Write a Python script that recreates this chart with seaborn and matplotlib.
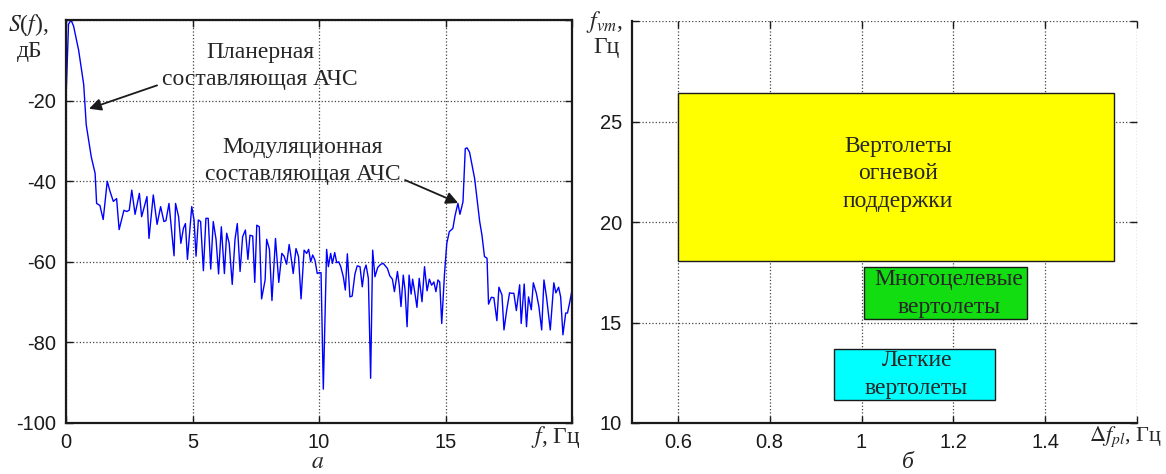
import matplotlib
matplotlib.use('Agg')
import matplotlib.pyplot as plt
import seaborn as sns
import pandas as pd

# спектр (панель а)
freq = [0.0, 0.1, 0.2, 0.3, 0.5, 0.7, 0.8, 0.9, 1.0, 1.15, 1.21, 1.34, 1.47, 1.63, 1.74, 1.87, 2.0, 2.1,
        2.29, 2.4, 2.5, 2.6, 2.73, 2.9, 2.99, 3.2, 3.28, 3.45, 3.6, 3.74, 3.87, 3.95, 4.07, 4.27, 4.33,
        4.45, 4.54, 4.64, 4.72, 4.8,
        4.97, 5.06, 5.14, 5.23, 5.32, 5.43, 5.53, 5.62, 5.72, 5.82, 5.93, 6.03, 6.14, 6.26, 6.35, 6.45,
        6.57, 6.68, 6.77, 6.88, 6.98, 7.09, 7.19, 7.27, 7.38, 7.46, 7.54, 7.64, 7.73, 7.87, 7.93, 8.04,
        8.14, 8.28, 8.41, 8.53, 8.62, 8.72, 8.82, 8.89, 8.98, 9.09, 9.19, 9.29, 9.41, 9.51, 9.59, 9.67,
        9.75, 9.84, 9.93,
        10.0, 10.08, 10.17, 10.3, 10.37, 10.46, 10.53, 10.62, 10.7, 10.78, 10.86, 10.96, 11.04, 11.12,
        11.22, 11.31, 11.42, 11.51, 11.62, 11.71, 11.79, 11.86, 11.95, 12.04, 12.12, 12.21, 12.32, 12.44,
        12.54, 12.7, 12.8, 12.9, 12.98, 13.1, 13.17, 13.24, 13.33, 13.4, 13.48, 13.56, 13.64, 13.7,
        13.79, 13.87, 13.96, 14.07, 14.17, 14.27, 14.36, 14.45, 14.54, 14.62, 14.7, 14.77, 14.85, 14.96,
        15.05, 15.15,
        15.29, 15.38, 15.49, 15.57, 15.69, 15.78, 15.85, 15.95, 16.05, 16.15, 16.25, 16.35, 16.44, 16.54,
        16.64, 16.7, 16.81, 16.91, 17.03, 17.11, 17.23, 17.31, 17.42, 17.53, 17.61, 17.7, 17.8, 17.93,
        17.99, 18.11, 18.2, 18.28, 18.39, 18.47, 18.59, 18.69, 18.8, 18.89, 18.99, 19.14, 19.28, 19.36,
        19.47, 19.55, 19.64, 19.75, 19.82, 19.9, 20.0]
level = [-19.5, -1, 0, -1.5, -7.5, -16, -26, -30, -34, -38, -45.5, -46, -49.5, -40, -42.5, -45, -44.3, -52,
         -47.2, -47.5, -47.2, -42.2, -48.2, -43, -48.8, -43.8, -54.2, -43.4, -50.7, -46.3, -50, -49.8, -45.5,
         -58.5, -45.5, -48.8, -55.4, -51.7, -50.5, -59.4,
         -46.3, -49.6, -58.6, -49.6, -50, -62.2, -49.2, -49.2, -61.8, -50, -54.4, -63, -51.3, -62.9, -52.9,
         -55.4, -65.6, -54.4, -50.5, -62.4, -53.8, -52.1, -59.4, -53.4, -53.6, -65.1, -50.9, -51.3, -69.2,
         -64.5, -54.4, -56.9, -69.6, -54.2, -65.1, -57.9, -58.6, -60.6, -55.7, -58.6, -62.9, -56.7, -58.7,
         -69.2, -57.1, -57.9, -56.9, -60, -58.3, -59.6, -62.9,
         -62.7, -62.7, -91.6, -56.9, -61.2, -57.9, -60.4, -57.7, -60.2, -60, -61.2, -63.7, -67, -58,
         -68.7, -68.5, -63, -61, -61.2, -66.2, -62, -60.8, -64.1, -88.9, -57.1, -63.7, -61.4, -60.6,
         -60.4, -61.6, -63.5, -64.3, -67.4, -62.4, -65.8, -71.1, -63.3, -67, -76.1, -63.3, -68, -64.3,
         -67.8, -71.3, -64.1, -69.9, -61.2, -67.2, -64.3, -65.8, -65, -67.4, -64.5, -65, -75.3, -62.9,
         -55.4, -52.5,
         -51.7, -48.4, -45.5, -48.2, -45.1, -31.9, -31.7, -32.8, -36, -39.3, -44.7, -50, -53.4, -58.7,
         -59.1, -70.5, -68.8, -68.9, -74.6, -66.3, -68.2, -76.9, -71.9, -67.7, -67.8, -67.8, -72.1, -65.7,
         -75.3, -65.5, -76.1, -68.7, -71.9, -65.2, -67.8, -71.1, -76.9, -64.5, -68.7, -76.9, -65.2, -67.7,
         -66.3, -68.7, -78.1, -72.7, -72.7, -70.3, -67]

# классы вертолетов (панель б): df_pl от..до, f_vm от..до
classes = ['Вертолеты\nогневой\nподдержки', 'Многоцелевые\nвертолеты', 'Легкие\nвертолеты']
dfpl_min = [0.6, 1.005, 0.94]
dfpl_max = [1.55, 1.36, 1.29]
fvm_min = [18.05, 15.15, 11.15]
fvm_max = [26.4, 17.75, 13.7]
box_colors = ['#ffff00', '#11dd11', '#00ffff']
label_x = [1.08, 1.19, 1.12]
label_y = [22.4, 16.45, 12.4]

x_ticks_a = [0, 5, 10, 15, 20]
y_ticks_a = [-100, -80, -60, -40, -20, 0]
x_ticks_b = [0.6, 0.8, 1.0, 1.2, 1.4, 1.6]
y_ticks_b = [10, 15, 20, 25, 30]

sns.set_theme(style='ticks')
plt.rcParams['font.family'] = ['Liberation Sans', 'DejaVu Sans']
plt.rcParams['axes.unicode_minus'] = False
plt.rcParams['mathtext.fontset'] = 'stix'
serif = ['Liberation Serif', 'DejaVu Serif']

fig = plt.figure(figsize=(11.66, 4.74), dpi=100)
ax1 = fig.add_axes([0.0566, 0.1076, 0.434, 0.850])
ax2 = fig.add_axes([0.542, 0.1076, 0.4331, 0.848])

spec = pd.DataFrame({'f': freq, 'S': level})
sns.lineplot(data=spec, x='f', y='S', ax=ax1, color='#0000ff', lw=1.0, sort=False)
ax1.set_xlim(0, 20)
ax1.set_ylim(-100, 0)
ax1.set_xticks(x_ticks_a)
ax1.set_xticklabels([str(t) for t in x_ticks_a[:-1]] + [''])
ax1.set_yticks(y_ticks_a)
ax1.set_yticklabels([str(t) for t in y_ticks_a[:-1]] + [''])

ax1.text(7.67, -11.4, 'Планерная\nсоставляющая АЧС', ha='center', va='center',
         family=serif, fontsize=17, linespacing=1.4)
ax1.text(9.37, -35.0, 'Модуляционная\nсоставляющая АЧС', ha='center', va='center',
         family=serif, fontsize=17, linespacing=1.4)
arrow = dict(arrowstyle='-|>', color='k', lw=1.3, mutation_scale=18, shrinkA=0, shrinkB=0)
ax1.annotate('', xy=(0.91, -22.0), xytext=(3.6, -16.2), arrowprops=arrow)
ax1.annotate('', xy=(15.5, -45.4), xytext=(13.4, -39.7), arrowprops=arrow)

# панель б
for i in range(len(classes)):
    ax2.bar(dfpl_min[i], fvm_max[i] - fvm_min[i], width=dfpl_max[i] - dfpl_min[i],
            bottom=fvm_min[i], align='edge', color=box_colors[i], edgecolor='k', lw=1.0, zorder=3)
    ax2.text(label_x[i], label_y[i], classes[i], ha='center', va='center', family=serif,
             fontsize=17, linespacing=1.42, zorder=4)
ax2.set_xlim(0.5, 1.6)
ax2.set_ylim(10, 30)
ax2.set_xticks(x_ticks_b)
ax2.set_xticklabels(['0.6', '0.8', '1', '1.2', '1.4', ''])
ax2.set_yticks(y_ticks_b)
ax2.set_yticklabels([str(t) for t in y_ticks_b[:-1]] + [''])
ax2.spines['top'].set_visible(False)
ax2.spines['right'].set_visible(False)

for ax in (ax1, ax2):
    ax.set_xlabel('')
    ax.set_ylabel('')
    ax.grid(True, linestyle=':', color='#444444', lw=0.9)
    ax.set_axisbelow(True)
    ax.tick_params(direction='in', length=5, width=1.0, top=True, right=True,
                   labelsize=14.5, colors='k', pad=7)
    for s in ax.spines.values():
        s.set_color('k')
        s.set_linewidth(1.6)

# подписи осей
fig.text(28 / 1166, 1 - 25 / 474, '$S$($f$),', ha='center', va='center', family=serif, fontsize=17)
fig.text(30 / 1166, 1 - 52 / 474, 'дБ', ha='center', va='center', family=serif, fontsize=17)
fig.text(556 / 1166, 1 - 437 / 474, '$f$, Гц', ha='center', va='center', family=serif, fontsize=17)
fig.text(318 / 1166, 1 - 463 / 474, '$a$', ha='center', va='center', family=serif, fontsize=17)
fig.text(604 / 1166, 1 - 22 / 474, '$f_{vm}$,', ha='center', va='center', family=serif, fontsize=17)
fig.text(606 / 1166, 1 - 48 / 474, 'Гц', ha='center', va='center', family=serif, fontsize=17)
fig.text(1162 / 1166, 1 - 437 / 474, r'$\mathit{\Delta f_{pl}}$, Гц', ha='right', va='center',
         family=serif, fontsize=16)
fig.text(908 / 1166, 1 - 463 / 474, 'б', ha='center', va='center', family=serif, fontsize=17,
         style='italic')

fig.savefig('out.png', dpi=100)
